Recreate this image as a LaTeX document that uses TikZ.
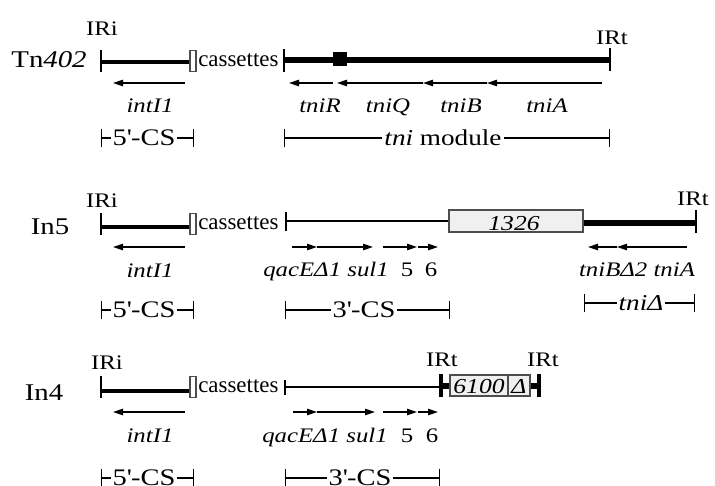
\documentclass[tikz,border=0pt]{standalone}
\usepackage{fontspec}
\setmainfont{Liberation Serif}[FakeStretch=1.2]
\newfontfamily\casfont{Liberation Serif}
\usetikzlibrary{arrows.meta, calc, positioning}
\definecolor{isedge}{HTML}{4D4D4D}
\definecolor{isfill}{HTML}{F0F0F0}
\tikzset{
  % nomi degli elementi
  elname/.style={font=\fontsize{18}{20}\selectfont, anchor=base, inner sep=0pt},
  % ripetizioni invertite
  irlbl/.style={font=\fontsize{15.5}{17}\selectfont, anchor=base, inner sep=0pt},
  % geni e frecce di trascrizione
  genelbl/.style={font=\fontsize{15.5}{17}\selectfont\itshape, anchor=base, inner sep=0pt},
  gene/.style={-{Triangle[length=7.5pt, width=4.8pt]}, line width=0.9pt},
  % tratti della molecola
  thinseg/.style={line width=0.9pt},
  thickseg/.style={line width=2.4pt},
  heavyseg/.style={line width=4pt},
  irtick/.style={line width=0.9pt},
  heavytick/.style={line width=3pt},
  % cassette e sequenze di inserzione
  casbox/.style={draw=isedge, fill=white, line width=0.8pt},
  caslbl/.style={font=\casfont\fontsize{17.2}{19}\selectfont, anchor=base west, inner sep=0pt},
  isbox/.style={draw=isedge, fill=isfill, line width=0.8pt},
  boxlbl/.style={font=\fontsize{16}{18}\selectfont\itshape, anchor=base, inner sep=0pt},
  % segmenti conservati
  span/.style={{Bar[width=14pt]}-{Bar[width=14pt]}, line width=0.8pt},
  spanlbl/.style={font=\fontsize{17}{19}\selectfont, fill=white, inner sep=1.5pt},
  cslbl/.style={spanlbl, font=\fontsize{17.8}{19}\selectfont},
}

\begin{document}
\begin{tikzpicture}[x=0.75pt, y=-0.75pt]
  \useasboundingbox (0,0) rectangle (715,486);
  % IRi, intI1, cassette e 5'-CS, uguali nelle tre righe
  \foreach \k/\yt/\yl/\xi/\yi/\ya/\yg/\yb in
    {1/61/62/102/35/83/112/138, 2/224/227/102/207/247/277/310, 3/387/391/107/369/412/442/478} {
    \node[irlbl] (iri\k) at (\xi,\yi) {IRi};
    \draw[irtick] (101,\yt-11) -- (101,\yt+11);
    \draw[thickseg] (101,\yl) -- (190,\yl);
    \draw[casbox] (190,\yt-10.5) rectangle (196,\yt+10.5);
    \node[caslbl] (cas\k) at (198,\yt+5.5) {cassettes};
    \draw[gene] (185,\ya) -- (113,\ya);
    \node[genelbl] (intI\k) at (150,\yg) {intI1};
    \draw[span] (101,\yb) -- (194,\yb);
    \node[cslbl] (cs5\k) at (144,\yb) {5\textquotesingle-CS};
  }

  % Tn402
  \node[elname] (tn402) at (49,67) {Tn\textit{402}};
  \draw[irtick] (284,49) -- (284,72);
  \draw[heavyseg] (284,60) -- (610,60);
  \draw[irtick] (610,48) -- (610,71);
  \node[fill=black, inner sep=0pt, minimum size=10.5pt] (res) at (340,59) {};
  \node[irlbl] (irt1) at (612,44) {IRt};
  \foreach \a/\b in {333/289, 602/487, 487/423, 423/337}
    \draw[gene] (\a,83) -- (\b,83);
  \foreach \g/\x in {R/320, Q/388, B/461, A/547}
    \node[genelbl] (tni\g) at (\x,112) {tni\g};
  \draw[span] (284,138) -- (610,138);
  \node[spanlbl] (tnimod) at (443,138) {\textit{tni} module};

  % In5
  \node[elname] (in5) at (50,234) {In5};
  \draw[irtick] (286,212) -- (286,231);
  \draw[thinseg] (286,221) -- (449,221);
  \draw[heavyseg] (583,223) -- (696,223);
  \draw[isbox] (449,210) rectangle (583,232);
  \node[boxlbl] (is1326) at (514,230) {1326};
  \draw[irtick] (696,210) -- (696,233);
  \node[irlbl] (irt2) at (693,205) {IRt};
  \foreach \a/\b in {292/317, 317/373, 383/417, 418/438, 687/617, 617/588}
    \draw[gene] (\a,247) -- (\b,247);
  \node[genelbl] (qac2) at (326,276) {qacEΔ1 sul1};
  \node[genelbl] (orf5b) at (407,276) {\textup{5}};
  \node[genelbl] (orf6b) at (431,276) {\textup{6}};
  \node[genelbl] (tnid) at (637,276) {tniBΔ2 tniA};
  \draw[span] (285,310) -- (450,310);
  \node[cslbl] (cs3b) at (364,310) {3\textquotesingle-CS};
  \draw[span] (584,303) -- (695,303);
  \node[spanlbl] (tnidelta) at (641,303) {\textit{tniΔ}};

  % In4
  \node[elname] (in4) at (44,400) {In4};
  \draw[irtick] (285,380) -- (285,395);
  \draw[thinseg] (285,387) -- (441,387);
  \draw[heavyseg] (441,386) -- (450,386) (530,386) -- (539,386);
  \draw[heavytick] (441,374) -- (441,397) (539,374) -- (539,397);
  \draw[isbox] (450,375) rectangle (508,396) (508,375) rectangle (530,396);
  \node[boxlbl] (is6100) at (479,393) {6100};
  \node[boxlbl] (isdelta) at (519,393) {Δ};
  \node[irlbl] (irt3) at (442,366) {IRt};
  \node[irlbl] (irt4) at (543,366) {IRt};
  \foreach \a/\b in {293/317, 317/375, 383/417, 418/438}
    \draw[gene] (\a,412) -- (\b,412);
  \node[genelbl] (qac3) at (325,442) {qacEΔ1 sul1};
  \node[genelbl] (orf5c) at (407,442) {\textup{5}};
  \node[genelbl] (orf6c) at (432,442) {\textup{6}};
  \draw[span] (285,478) -- (440,478);
  \node[cslbl] (cs3c) at (360,478) {3\textquotesingle-CS};
\end{tikzpicture}
\end{document}
